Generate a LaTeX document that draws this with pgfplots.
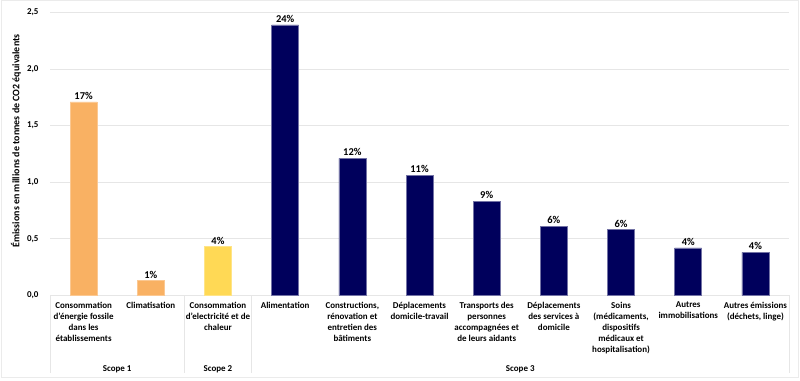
\documentclass[border=0pt]{standalone}
\usepackage{fontspec}
\setmainfont{Carlito}
\usepackage{pgfplots}
\pgfplotsset{compat=1.18}
\definecolor{orangebar}{HTML}{F9B163}
\definecolor{yellowbar}{HTML}{FFD955}
\definecolor{navybar}{HTML}{00005C}
\definecolor{gridgray}{HTML}{E6E6E6}
\definecolor{framegray}{HTML}{EBEBEB}
\begin{document}
\begin{tikzpicture}[x=1bp,y=1bp]
\path (0,0) rectangle (800,380);
\draw[framegray,line width=0.8bp] (1,3) rectangle (798,380);
\begin{axis}[
  at={(50bp,85bp)}, anchor=south west,
  scale only axis, width=739bp, height=283bp,
  xmin=-0.5, xmax=10.5, ymin=0, ymax=2.5,
  ytick={0,0.5,...,2.5},
  xtick={0,...,10},
  major tick length=0pt,
  axis line style={draw=none},
  ymajorgrids, grid style={gridgray, line width=0.8bp},
  clip=false,
  ybar, bar width=27bp, bar shift=0pt,
  /pgf/number format/assume math mode=true,
  yticklabel={\pgfmathprintnumber[fixed,fixed zerofill,precision=1,use comma]{\tick}},
  yticklabel style={font=\bfseries\fontsize{9}{10}\selectfont, anchor=east, xshift=-8bp},
  xticklabels={
    {Consommation\\d'énergie fossile\\dans les\\établissements},
    {Climatisation},
    {Consommation\\d'electricité et de\\chaleur},
    {Alimentation},
    {Constructions,\\rénovation et\\entretien des\\bâtiments},
    {Déplacements\\domicile-travail},
    {Transports des\\personnes\\accompagnées et\\de leurs aidants},
    {Déplacements\\des services à\\domicile},
    {Soins\\(médicaments,\\dispositifs\\médicaux et\\hospitalisation)},
    {Autres\\immobilisations},
    {Autres émissions\\(déchets, linge)}},
  xticklabel style={align=center, font=\bfseries\fontsize{9}{11}\selectfont, anchor=north, yshift=-3bp},
  ylabel={Émissions en millions de tonnes de CO2 équivalents},
  ylabel style={at={([xshift=-34bp,yshift=13bp]axis description cs:0,0.5)}, anchor=center, font=\bfseries\fontsize{10}{12}\selectfont},
  nodes near coords, point meta=explicit symbolic,
  every node near coord/.append style={font=\bfseries\fontsize{10.5}{12}\selectfont, anchor=south, yshift=-1bp},
]
\addplot[fill=orangebar, draw=orangebar!70!white, line width=0.5bp] coordinates {(0,1.71) [17\%] (1,0.13) [1\%]};
\addplot[fill=yellowbar, draw=yellowbar!70!white, line width=0.5bp] coordinates {(2,0.43) [4\%]};
\addplot[fill=navybar, draw=navybar!55!white, line width=0.5bp] coordinates {
  (3,2.39) [24\%] (4,1.21) [12\%] (5,1.06) [11\%] (6,0.83) [9\%]
  (7,0.61) [6\%] (8,0.58) [6\%] (9,0.42) [4\%] (10,0.38) [4\%]};
\draw[gridgray, line width=0.8bp] (axis cs:-0.5,0) -- ++(0pt,-78bp);
\draw[gridgray, line width=0.8bp] (axis cs:1.5,0) -- ++(0pt,-78bp);
\draw[gridgray, line width=0.8bp] (axis cs:2.5,0) -- ++(0pt,-78bp);
\draw[gridgray, line width=0.8bp] (axis cs:10.5,0) -- ++(0pt,-78bp);
\node[font=\bfseries\fontsize{9}{10}\selectfont] at ([yshift=-74bp]axis cs:0.5,0) {Scope 1};
\node[font=\bfseries\fontsize{9}{10}\selectfont] at ([yshift=-74bp]axis cs:2,0) {Scope 2};
\node[font=\bfseries\fontsize{9}{10}\selectfont] at ([yshift=-74bp]axis cs:6.5,0) {Scope 3};
\end{axis}
\end{tikzpicture}
\end{document}
